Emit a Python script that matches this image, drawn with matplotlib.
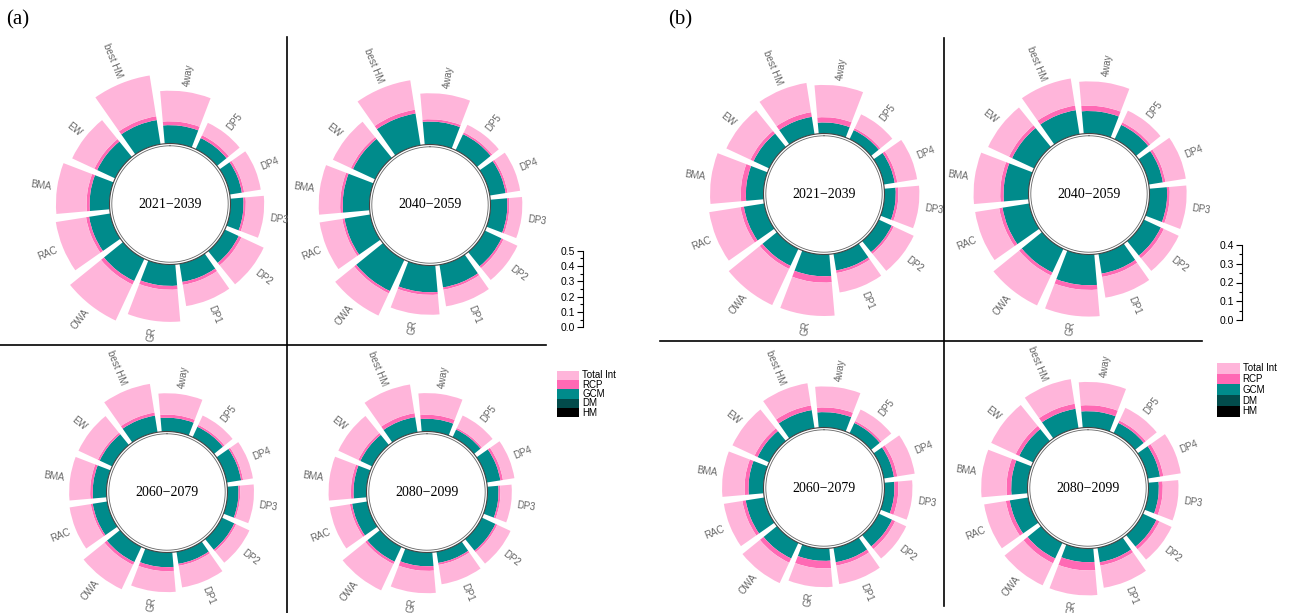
import numpy as np
import matplotlib.pyplot as plt

plt.rcParams["font.family"] = ["Liberation Sans", "DejaVu Sans"]

W, H = 1290, 613
fig = plt.figure(figsize=(W / 100, H / 100), dpi=100)

methods = ["4way", "DP5", "DP4", "DP3", "DP2", "DP1", "GR", "OWA", "RAC", "BMA", "EW", "best HM"]
periods = ["2021−2039", "2040−2059", "2060−2079", "2080−2099"]
legend_labels = ["Total Int", "RCP", "GCM", "DM", "HM"]

# panel (a): uncertainty contributions per method (GCM, RCP, total internal)
gcm_a = {
    "2021−2039": [0.12, 0.08, 0.08, 0.085, 0.10, 0.12, 0.14, 0.16, 0.14, 0.13, 0.13, 0.16],
    "2040−2059": [0.15, 0.115, 0.105, 0.11, 0.12, 0.15, 0.175, 0.225, 0.17, 0.175, 0.16, 0.21],
    "2060−2079": [0.09, 0.075, 0.095, 0.072, 0.09, 0.08, 0.096, 0.11, 0.096, 0.09, 0.09, 0.11],
    "2080−2099": [0.083, 0.055, 0.09, 0.072, 0.098, 0.074, 0.09, 0.107, 0.10, 0.085, 0.085, 0.10],
}
rcp_a = {
    "2021−2039": [0.025, 0.02, 0.015, 0.015, 0.02, 0.02, 0.025, 0.025, 0.02, 0.02, 0.02, 0.025],
    "2040−2059": [0.015, 0.013, 0.013, 0.013, 0.015, 0.015, 0.017, 0.017, 0.015, 0.017, 0.015, 0.025],
    "2060−2079": [0.02, 0.013, 0.013, 0.011, 0.013, 0.013, 0.026, 0.02, 0.013, 0.017, 0.013, 0.02],
    "2080−2099": [0.026, 0.011, 0.017, 0.013, 0.013, 0.013, 0.03, 0.017, 0.015, 0.017, 0.015, 0.026],
}
tot_a = {
    "2021−2039": [0.20, 0.09, 0.11, 0.12, 0.16, 0.14, 0.21, 0.26, 0.20, 0.20, 0.16, 0.27],
    "2040−2059": [0.17, 0.055, 0.083, 0.085, 0.10, 0.11, 0.13, 0.16, 0.15, 0.14, 0.13, 0.195],
    "2060−2079": [0.14, 0.068, 0.065, 0.09, 0.096, 0.143, 0.137, 0.176, 0.14, 0.137, 0.14, 0.19],
    "2080−2099": [0.142, 0.09, 0.076, 0.074, 0.096, 0.128, 0.146, 0.19, 0.133, 0.146, 0.144, 0.19],
}

# panel (b)
gcm_b = {
    "2021−2039": [0.059, 0.053, 0.059, 0.06, 0.076, 0.09, 0.116, 0.10, 0.11, 0.094, 0.092, 0.094],
    "2040−2059": [0.12, 0.084, 0.076, 0.094, 0.10, 0.107, 0.164, 0.139, 0.144, 0.133, 0.13, 0.13],
    "2060−2079": [0.082, 0.06, 0.055, 0.053, 0.078, 0.078, 0.066, 0.092, 0.10, 0.08, 0.068, 0.098],
    "2080−2099": [0.087, 0.06, 0.066, 0.055, 0.08, 0.078, 0.073, 0.092, 0.10, 0.087, 0.082, 0.105],
}
rcp_b = {
    "2021−2039": [0.028, 0.011, 0.014, 0.014, 0.012, 0.014, 0.034, 0.018, 0.018, 0.027, 0.018, 0.025],
    "2040−2059": [0.028, 0.014, 0.014, 0.014, 0.018, 0.018, 0.025, 0.018, 0.018, 0.018, 0.018, 0.025],
    "2060−2079": [0.025, 0.011, 0.018, 0.021, 0.018, 0.018, 0.04, 0.025, 0.018, 0.021, 0.018, 0.025],
    "2080−2099": [0.032, 0.014, 0.018, 0.021, 0.018, 0.018, 0.044, 0.028, 0.021, 0.025, 0.021, 0.027],
}
tot_b = {
    "2021−2039": [0.172, 0.082, 0.107, 0.112, 0.117, 0.105, 0.178, 0.213, 0.169, 0.164, 0.142, 0.158],
    "2040−2059": [0.13, 0.07, 0.11, 0.09, 0.087, 0.112, 0.142, 0.176, 0.13, 0.142, 0.123, 0.146],
    "2060−2079": [0.112, 0.068, 0.094, 0.075, 0.065, 0.10, 0.10, 0.12, 0.10, 0.12, 0.13, 0.12],
    "2080−2099": [0.124, 0.075, 0.094, 0.084, 0.071, 0.12, 0.133, 0.13, 0.117, 0.135, 0.144, 0.133],
}

colors = {"Total Int": "#FFB5DA", "RCP": "#FF69B4", "GCM": "#008B8B", "DM": "#024B4B", "HM": "#000000"}
label_color = "#666666"


def px_axes(x, y, w, h, **kw):
    return fig.add_axes([x / W, 1 - (y + h) / H, w / W, h / H], **kw)


theta = np.deg2rad(np.arange(len(methods)) * 30 + 8)
bar_w = np.deg2rad(26)


def ring(cx, cy, scale, gcm, rcp, tot, title):
    r0 = 60.5 / scale
    rmax = 150 / scale
    size = 2 * rmax * scale
    ax = px_axes(cx - size / 2, cy - size / 2, size, size, projection="polar")
    ax.set_theta_zero_location("N")
    ax.set_theta_direction(-1)
    ax.set_ylim(0, rmax)
    ax.axis("off")
    ax.patch.set_alpha(0)
    g, r, t = np.array(gcm), np.array(rcp), np.array(tot)
    ax.bar(theta, g, width=bar_w, bottom=r0, color=colors["GCM"], lw=0)
    ax.bar(theta, r, width=bar_w, bottom=r0 + g, color=colors["RCP"], lw=0)
    ax.bar(theta, t, width=bar_w, bottom=r0 + g + r, color=colors["Total Int"], lw=0)
    circ = np.linspace(0, 2 * np.pi, 400)
    ax.plot(circ, np.full_like(circ, r0), color="#444444", lw=0.8)
    ax.plot(circ, np.full_like(circ, r0 - 2.3 / scale), color="#666666", lw=0.6)
    top = r0 + g + r + t
    for th, rt, name in zip(theta, top, methods):
        deg = np.rad2deg(th)
        if deg < 180:
            rot, ha = 90 - deg, "left"
        else:
            rot, ha = 270 - deg, "right"
        ax.text(th, rt + 6 / scale, name, rotation=rot, rotation_mode="anchor",
                ha=ha, va="center", fontsize=7, color=label_color)
    ax.text(0, 0, title, ha="center", va="center", fontsize=10,
            family=["Liberation Serif", "DejaVu Serif"])


def scale_bar(x, y_top, h, vmax):
    ax = px_axes(x, y_top, 1, h)
    ax.set_ylim(0, vmax)
    ax.set_xticks([])
    for s in ["top", "right", "bottom"]:
        ax.spines[s].set_visible(False)
    ax.spines["left"].set_linewidth(0.8)
    ax.set_yticks(np.arange(0, vmax + 0.001, 0.1))
    ax.set_yticklabels([f"{v:.1f}" for v in np.arange(0, vmax + 0.001, 0.1)])
    ax.set_yticks(np.arange(0.05, vmax, 0.1), minor=True)
    ax.tick_params(axis="y", which="major", length=4, width=0.8, labelsize=7.5, pad=1.5)
    ax.tick_params(axis="y", which="minor", length=2.5, width=0.8)
    ax.patch.set_alpha(0)


def legend_box(x, y, w, h):
    ax = px_axes(x, y, w, h)
    ax.barh(range(len(legend_labels)), [1] * len(legend_labels), height=1,
            color=[colors[k] for k in legend_labels], lw=0)
    for i, lab in enumerate(legend_labels):
        ax.text(1.12, i, lab, va="center", ha="left", fontsize=7)
    ax.set_xlim(0, 1)
    ax.set_ylim(len(legend_labels) - 0.5, -0.5)
    ax.axis("off")


# background axes for separators and panel tags
bg = px_axes(0, 0, W, H)
bg.set_xlim(0, W)
bg.set_ylim(H, 0)
bg.axis("off")
bg.plot([287, 287], [37, 613], color="black", lw=1.2)
bg.plot([0, 546], [345, 345], color="black", lw=1.2)
bg.plot([944, 944], [38, 606], color="black", lw=1.2)
bg.plot([660, 1202], [341, 341], color="black", lw=1.2)
bg.text(18, 20, "(a)", ha="center", va="center", fontsize=15, family="Liberation Serif")
bg.text(680, 20, "(b)", ha="center", va="center", fontsize=15, family="Liberation Serif")

centers_a = [(170, 204), (430, 205), (167, 492), (427, 492)]
centers_b = [(824, 194), (1089, 194), (824, 488), (1088, 488)]

for (cx, cy), p in zip(centers_a, periods):
    ring(cx, cy, 153.0, gcm_a[p], rcp_a[p], tot_a[p], p)
for (cx, cy), p in zip(centers_b, periods):
    ring(cx, cy, 187.5, gcm_b[p], rcp_b[p], tot_b[p], p)

scale_bar(583, 250.7, 76.6, 0.5)
scale_bar(1241.7, 245, 75, 0.4)
legend_box(556.7, 370.7, 22.6, 46.6)
legend_box(1217.3, 363, 22.7, 53.7)

fig.savefig("out.png", dpi=100)
